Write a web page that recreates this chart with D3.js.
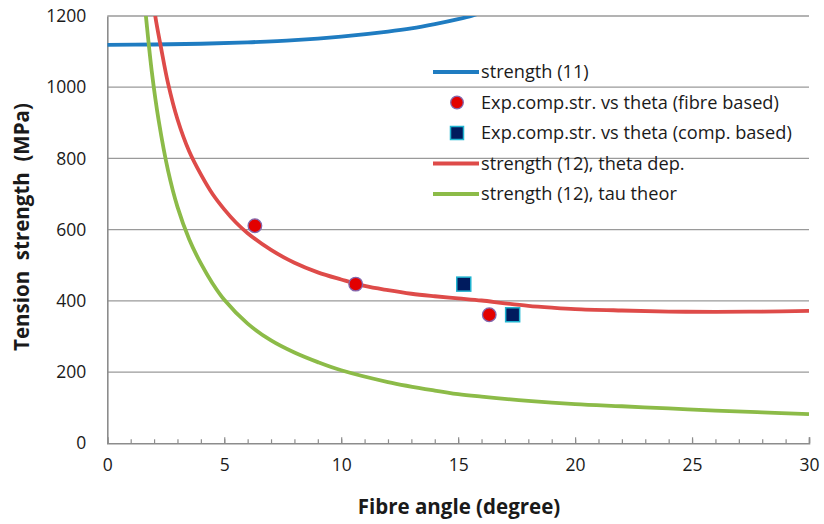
<!DOCTYPE html>
<html>
<head>
<meta charset="utf-8">
<script src="https://cdn.jsdelivr.net/npm/d3@7"></script>
<style>
  body { margin: 0; background: #fff; }
  svg { display: block; }
  text { font-family: "Open Sans", "Noto Sans", sans-serif; fill: #1a1a1a; }
</style>
</head>
<body>
<svg id="chart" width="824" height="524"></svg>
<script>
// values
const xTicks = [0, 5, 10, 15, 20, 25, 30]
const yTicks = [0, 200, 400, 600, 800, 1000, 1200]

// strength (11)
const strength11 = [[0, 1119], [2, 1120], [4, 1122], [6, 1126], [8, 1132], [10, 1142],
  [12, 1156], [13, 1165], [14, 1177], [15, 1191], [15.6, 1201], [16, 1210]]

// strength (12), theta dep.
const strength12theta = [[1.9, 1280], [2.05, 1200], [2.3, 1110], [2.6, 1010], [3.0, 910],
  [3.5, 820], [4.0, 755], [4.5, 700], [5.0, 657], [5.5, 620], [6.0, 590], [7.0, 543],
  [8.0, 507], [9.0, 480], [10.0, 460], [11.0, 442], [12.0, 430], [13.0, 420], [14.0, 413],
  [15.0, 407], [16.0, 401], [17.0, 393], [18.0, 386], [19.0, 381], [20.0, 377], [22.0, 373],
  [24.0, 370], [26.0, 369], [28.0, 370], [30.0, 372]]

// strength (12), tau theor
const strength12tau = [[1.5, 1300], [1.65, 1200], [1.9, 1045], [2.2, 905], [2.6, 765],
  [3.0, 664], [3.5, 573], [4.0, 505], [4.5, 449], [5.0, 403], [6.0, 336], [7.0, 289],
  [8.0, 255], [9.0, 228], [10.0, 205], [12.0, 172], [14.0, 148], [15.0, 138], [16.0, 131],
  [18.0, 119], [20.0, 110], [22.0, 104], [24.0, 98], [26.0, 92], [28.0, 87], [30.0, 82]]

// experimental points
const expFibre = [[6.31, 611], [10.62, 447], [16.33, 361]]
const expComp = [[15.24, 447], [17.33, 361]]

const legendLabels = ['strength (11)', 'Exp.comp.str. vs theta (fibre based)',
  'Exp.comp.str. vs theta (comp. based)', 'strength (12), theta dep.', 'strength (12), tau theor']

const svg = d3.select('#chart')
const x = d3.scaleLinear().domain([0, 30]).range([107.3, 809])
const y = d3.scaleLinear().domain([0, 1200]).range([443.3, 16])

svg.append('clipPath').attr('id', 'plot')
  .append('rect')
  .attr('x', x(0)).attr('y', y(1200))
  .attr('width', x(30) - x(0) + 6).attr('height', y(0) - y(1200))

// gridlines
svg.append('g')
  .selectAll('line.grid')
  .data(yTicks.filter(d => d > 0))
  .enter()
  .append('line')
  .classed('grid', true)
  .attr('x1', x(0)).attr('x2', x(30))
  .attr('y1', d => y(d)).attr('y2', d => y(d))
  .attr('stroke', '#9a9a9a')
  .attr('stroke-width', 1.3)

// y axis labels
const yAxis = svg.append('g')
  .attr('transform', `translate(${x(0)},0)`)
  .call(d3.axisLeft(y).tickValues(yTicks).tickFormat(d3.format('d')).tickSize(0).tickPadding(21))
yAxis.select('.domain').attr('stroke', '#8c8c8c').attr('stroke-width', 1.6)
yAxis.selectAll('text').style('font-size', '17.5px').attr('fill', '#1a1a1a')

// x axis: minor ticks every degree, longer ones on labels
const xMinor = svg.append('g')
  .attr('transform', `translate(0,${y(0)})`)
  .call(d3.axisBottom(x).ticks(30).tickSize(-4).tickFormat(''))
xMinor.select('.domain').remove()
xMinor.selectAll('line').attr('stroke', '#8c8c8c').attr('stroke-width', 1.2)

const xAxis = svg.append('g')
  .attr('transform', `translate(0,${y(0)})`)
  .call(d3.axisBottom(x).tickValues(xTicks).tickSize(-6).tickPadding(15))
xAxis.select('.domain').attr('stroke', '#8c8c8c').attr('stroke-width', 1.6)
xAxis.selectAll('line').attr('stroke', '#8c8c8c').attr('stroke-width', 1.2)
xAxis.selectAll('text').style('font-size', '17.5px').attr('fill', '#1a1a1a')

// axis titles
svg.append('text')
  .attr('x', 459).attr('y', 514)
  .attr('text-anchor', 'middle')
  .style('font-size', '20.5px').style('font-weight', 'bold')
  .text('Fibre angle (degree)')

svg.append('text')
  .attr('transform', 'translate(29,227) rotate(-90)')
  .attr('text-anchor', 'middle')
  .style('font-size', '20.5px').style('font-weight', 'bold')
  .style('white-space', 'pre')
  .attr('xml:space', 'preserve')
  .text('Tension  strength  (MPa)')

// curves
const line = d3.line()
  .x(d => x(d[0]))
  .y(d => y(d[1]))
  .curve(d3.curveCatmullRom.alpha(0.5))

const curves = svg.append('g').attr('clip-path', 'url(#plot)')
const series = [
  { data: strength11, color: '#1f7cc1' },
  { data: strength12theta, color: '#de4b49' },
  { data: strength12tau, color: '#8cbb48' }
]
curves.selectAll('path.curve')
  .data(series)
  .enter()
  .append('path')
  .classed('curve', true)
  .attr('d', d => line(d.data))
  .attr('fill', 'none')
  .attr('stroke', d => d.color)
  .attr('stroke-width', 3.8)

// markers
svg.selectAll('circle.fibre')
  .data(expFibre)
  .enter()
  .append('circle')
  .classed('fibre', true)
  .attr('cx', d => x(d[0]))
  .attr('cy', d => y(d[1]))
  .attr('r', 6.8)
  .attr('fill', '#e30000')
  .attr('stroke', '#8467ad')
  .attr('stroke-width', 1.3)

svg.selectAll('rect.comp')
  .data(expComp)
  .enter()
  .append('rect')
  .classed('comp', true)
  .attr('x', d => x(d[0]) - 7)
  .attr('y', d => y(d[1]) - 7)
  .attr('width', 14).attr('height', 14)
  .attr('fill', '#001b5e')
  .attr('stroke', '#20b4d0')
  .attr('stroke-width', 1.5)

// legend
const legend = svg.append('g').attr('transform', 'translate(433,72)')
const rows = legend.selectAll('g.row')
  .data(legendLabels)
  .enter()
  .append('g')
  .classed('row', true)
  .attr('transform', (d, i) => `translate(0,${i * 30.5})`)

rows.append('text')
  .attr('x', 48).attr('y', 0)
  .attr('dy', '0.35em')
  .style('font-size', '18.2px')
  .text(d => d)

rows.filter((d, i) => i === 0 || i >= 3)
  .append('line')
  .attr('x1', 0).attr('x2', 46)
  .attr('stroke', (d, i) => [series[0].color, series[1].color, series[2].color][i])
  .attr('stroke-width', 3.8)

rows.filter((d, i) => i === 1)
  .append('circle')
  .attr('cx', 24).attr('r', 6.3)
  .attr('fill', '#e30000').attr('stroke', '#8467ad').attr('stroke-width', 1.3)

rows.filter((d, i) => i === 2)
  .append('rect')
  .attr('x', 17.5).attr('y', -6.5).attr('width', 13).attr('height', 13)
  .attr('fill', '#001b5e').attr('stroke', '#20b4d0').attr('stroke-width', 1.5)
</script>
</body>
</html>
